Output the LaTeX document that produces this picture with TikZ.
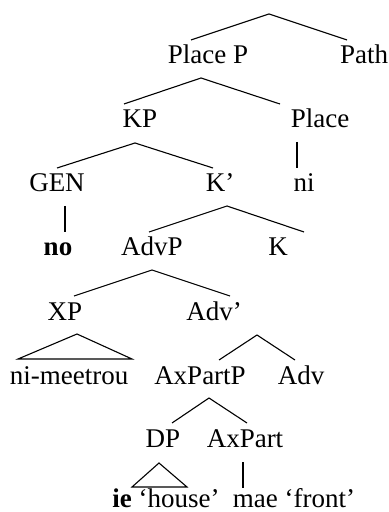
\documentclass[tikz,border=0pt]{standalone}
\usepackage{fontspec}
\setmainfont{Liberation Serif}
\begin{document}
\begin{tikzpicture}[x=0.5pt,y=-0.5pt,
  lbl/.style={anchor=base, inner sep=0pt, font=\fontsize{13.5}{16}\selectfont},
  br/.style={line width=0.55pt, line join=miter}]
\useasboundingbox (0,0) rectangle (389,512);

% labels
\node[lbl] (placep)  at (208,64)  {Place P};
\node[lbl] (path)    at (364,64)  {Path};
\node[lbl] (kp)      at (140,128) {KP};
\node[lbl] (place)   at (320,128) {Place};
\node[lbl] (gen)     at (57,192)  {GEN};
\node[lbl] (kbar)    at (220,192) {K’};
\node[lbl] (ni)      at (304,192) {ni};
\node[lbl] (no)      at (58,256)  {\textbf{no}};
\node[lbl] (advp)    at (152,256) {AdvP};
\node[lbl] (k)       at (278,256) {K};
\node[lbl] (xp)      at (65,320)  {XP};
\node[lbl] (advbar)  at (214,320) {Adv’};
\node[lbl] (nimeet)  at (69,384)  {ni-meetrou};
\node[lbl] (axpartp) at (200,384) {AxPartP};
\node[lbl] (adv)     at (301,384) {Adv};
\node[lbl] (dp)      at (163,447) {DP};
\node[lbl] (axpart)  at (245,447) {AxPart};
\node[lbl] (ie)      at (166,507) {\textbf{ie} ‘house’};
\node[lbl] (mae)     at (294,507) {mae ‘front’};

% branch points
\coordinate (a0) at (269,14);  \coordinate (e-placep) at (191,40);  \coordinate (e-path) at (347,40);
\coordinate (a1) at (201,78);  \coordinate (e-kp) at (124,104);     \coordinate (e-place) at (280,104);
\coordinate (a2) at (135,143); \coordinate (e-gen) at (57,168);     \coordinate (e-kbar) at (213,168);
\coordinate (v-place) at (297,142); \coordinate (e-ni) at (297,168);
\coordinate (v-gen) at (65,206);    \coordinate (e-no) at (65,232);
\coordinate (a3) at (227,206); \coordinate (e-advp) at (149,232);   \coordinate (e-k) at (304,232);
\coordinate (a4) at (152,270); \coordinate (e-xp) at (74,296);      \coordinate (e-advbar) at (230,296);
\coordinate (t-xp) at (77,334); \coordinate (t-xpl) at (18,359);    \coordinate (t-xpr) at (132,359);
\coordinate (a5) at (257,335); \coordinate (e-axpartp) at (219,360); \coordinate (e-adv) at (295,360);
\coordinate (a6) at (209,398); \coordinate (e-dp) at (172,423);     \coordinate (e-axpart) at (247,423);
\coordinate (t-dp) at (159,463); \coordinate (t-dpl) at (132,487);  \coordinate (t-dpr) at (187,487);
\coordinate (v-axpart) at (243,462); \coordinate (e-mae) at (243,488);

% branches
\draw[br] (e-placep) -- (a0) -- (e-path);
\draw[br] (e-kp) -- (a1) -- (e-place);
\draw[br] (e-gen) -- (a2) -- (e-kbar);
\draw[br] (v-place) -- (e-ni);
\draw[br] (v-gen) -- (e-no);
\draw[br] (e-advp) -- (a3) -- (e-k);
\draw[br] (e-xp) -- (a4) -- (e-advbar);
\draw[br] (t-xp) -- (t-xpl) -- (t-xpr) -- cycle;
\draw[br] (e-axpartp) -- (a5) -- (e-adv);
\draw[br] (e-dp) -- (a6) -- (e-axpart);
\draw[br] (t-dp) -- (t-dpl) -- (t-dpr) -- cycle;
\draw[br] (v-axpart) -- (e-mae);
\end{tikzpicture}
\end{document}
